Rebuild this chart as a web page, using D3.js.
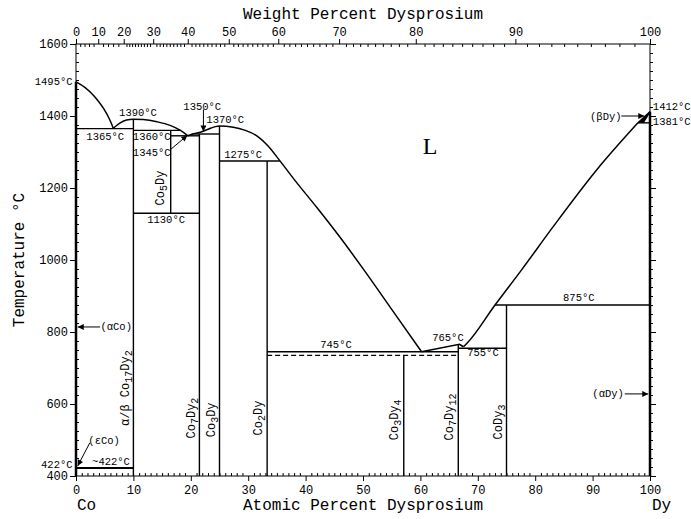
<!DOCTYPE html>
<html>
<head>
<meta charset="utf-8">
<script src="https://cdn.jsdelivr.net/npm/d3@7"></script>
<style>
  body { margin: 0; background: #fff; }
  text { font-family: "Liberation Mono", monospace; fill: #000; }
</style>
</head>
<body>
<div id="chart"></div>
<script>
// axis ticks
const atTicks = d3.range(0, 101, 10);
const wtTicks = d3.range(0, 101, 10);
const tempTicks = d3.range(400, 1601, 200);

// liquidus / solidus curves, [at% Dy, °C]
const liqCo = [[0,1495],[1.6,1479],[3.3,1453],[4.8,1421],[5.9,1389],[6.5,1366]];
const liqCo17Dy2 = [[6.5,1366],[7.7,1381],[8.8,1389],[10,1391],[11.7,1390],[14.1,1384],[16.4,1374],[18.2,1360],[19.5,1345]];
const liqCo3Dy = [[19.5,1345],[20.3,1350],[21.5,1354],[22.8,1362],[25,1372],[27.4,1369],[29.5,1360],[31.5,1345],[33.5,1316],[35.5,1276],[38,1224],[42,1145],[46,1063],[50,976],[55,863],[60.2,745]];
const liqCo7Dy12 = [[60.2,745],[66.8,766],[67.5,759]];
const liqDy = [[67.5,759],[68.2,770],[73,875],[77.6,972],[83.2,1094],[90.7,1250],[97.9,1381]];
const liqBetaDy = [[97.9,1381],[100,1412]];
const solBetaDy = [[98.8,1381],[100,1412]];

// invariant lines: temperature, from, to
const isoTemps = [1365, 1360, 1345, 1350, 1275, 1130, 745, 755, 875, 422, 1381];
const isoFrom  = [0,    10,   16.5, 20.3, 25,   10,   33.3, 66.6, 73,  0,   97.9];
const isoTo    = [10,   18.2, 21.5, 25,   35.5, 21.5, 66.6, 75,   100, 10,  100];
const dashedIso = [[33.3, 735], [66.6, 735]];

// compounds: composition, top and bottom temperature
const compNames = ["α/β Co17Dy2", "Co5Dy", "Co7Dy2", "Co3Dy", "Co2Dy", "Co3Dy4", "Co7Dy12", "CoDy3"];
const compAt    = [10,   16.5, 21.5, 25,   33.3, 57.1, 66.6, 75];
const compTop   = [1391, 1360, 1350, 1372, 1275, 735,  765,  875];
const compBot   = [400,  1130, 400,  400,  400,  400,  400,  400];
const compLabelPos = [[8.7,644],[14.8,1200],[20.2,561],[23.7,556],[31.9,561],[55.6,556],[65.2,564],[73.7,550]];

// temperature annotations
const tempLabels = [
  ["1495°C", -0.6, 1495, "end"], ["1390°C", 10.8, 1408, "middle"], ["1365°C", 5.1, 1342, "middle"],
  ["1360°C", 13.2, 1342, "middle"], ["1345°C", 13.2, 1297, "middle"], ["1350°C", 22, 1425, "middle"],
  ["1370°C", 26, 1389, "middle"], ["1275°C", 29.1, 1292, "middle"], ["1130°C", 15.7, 1111, "middle"],
  ["745°C", 45.3, 764, "middle"], ["765°C", 64.8, 783, "middle"], ["755°C", 70.9, 742, "middle"],
  ["875°C", 87.6, 894, "middle"], ["~422°C", 6.1, 439, "middle"], ["422°C", -0.6, 430, "end"],
  ["1412°C", 100.5, 1425, "start"], ["1381°C", 100.5, 1383, "start"],
  ["(εCo)", 4.9, 497, "middle"], ["(αCo)", 7, 814, "middle"], ["(βDy)", 92.3, 1397, "middle"], ["(αDy)", 92.7, 628, "middle"]
];
const arrows = [
  [[16.4,1306],[19.4,1346]], [[22.2,1418],[22.2,1357]], [[2.4,492],[0.3,428]],
  [[4.2,814],[0.3,814]], [[95.6,628],[99.7,628]], [[95,1400],[99,1400]]
];

const W = 691, H = 519;
const svg = d3.select("#chart").append("svg").attr("width", W).attr("height", H);

const x = d3.scaleLinear().domain([0, 100]).range([76, 650]);
const y = d3.scaleLinear().domain([400, 1600]).range([476, 44]);

function wtToAt(w) {
  if (w >= 100) return 100;
  const nd = w / 162.5, nc = (100 - w) / 58.933;
  return 100 * nd / (nd + nc);
}

svg.append("defs").append("marker").attr("id", "arr")
  .attr("viewBox", "0 0 10 10").attr("refX", 10).attr("refY", 5)
  .attr("markerWidth", 8).attr("markerHeight", 6).attr("markerUnits", "userSpaceOnUse")
  .attr("orient", "auto")
  .append("path").attr("d", "M0,0L10,5L0,10z").attr("fill", "#000");

// axes
const styleAxis = g => { g.select(".domain").remove(); g.selectAll("line").attr("stroke", "#000"); g.selectAll("text").style("font-size", "12px").style("font-family", "Liberation Mono"); };
const minorAt = d3.range(0, 101, 1).filter(d => d % 10);
const minorT = d3.range(400, 1601, 25).filter(d => d % 200);
const minorWt = d3.range(0, 100, 1).filter(d => d % 10 && (d >= 20 || d % 2 === 0)).map(wtToAt);

svg.append("g").attr("transform", "translate(0,476)")
  .call(d3.axisBottom(x).tickValues(atTicks).tickSize(5).tickPadding(4)).call(styleAxis);
svg.append("g").attr("transform", "translate(0,476)")
  .call(d3.axisBottom(x).tickValues(minorAt).tickSize(-3).tickFormat("")).call(styleAxis);
svg.append("g").attr("transform", "translate(0,44)")
  .call(d3.axisTop(x).tickValues(wtTicks.map(wtToAt)).tickSize(5).tickPadding(3).tickFormat((d, i) => wtTicks[i])).call(styleAxis);
svg.append("g").attr("transform", "translate(0,44)")
  .call(d3.axisTop(x).tickValues(minorWt).tickSize(-3).tickFormat("")).call(styleAxis);
svg.append("g").attr("transform", "translate(76,0)")
  .call(d3.axisLeft(y).tickValues(tempTicks).tickSize(6).tickPadding(2).tickFormat(d3.format("d"))).call(styleAxis);
svg.append("g").attr("transform", "translate(76,0)")
  .call(d3.axisLeft(y).tickValues(minorT).tickSize(-3).tickFormat("")).call(styleAxis);
svg.append("g").attr("transform", "translate(650,0)")
  .call(d3.axisRight(y).tickValues(tempTicks).tickSize(6).tickFormat("")).call(styleAxis);
svg.append("g").attr("transform", "translate(650,0)")
  .call(d3.axisRight(y).tickValues(minorT).tickSize(3).tickFormat("")).call(styleAxis);

svg.append("rect").attr("x", x(0)).attr("y", y(1600)).attr("width", x(100) - x(0)).attr("height", y(400) - y(1600))
  .attr("fill", "none").attr("stroke", "#000").attr("stroke-width", 1);

// pure element lines
svg.append("line").attr("x1", x(0)).attr("x2", x(0)).attr("y1", y(400)).attr("y2", y(1495)).attr("stroke", "#000").attr("stroke-width", 2.5);
svg.append("line").attr("x1", x(100)).attr("x2", x(100)).attr("y1", y(400)).attr("y2", y(1412)).attr("stroke", "#000").attr("stroke-width", 2.5);

// curves
const line = d3.line().x(d => x(d[0])).y(d => y(d[1])).curve(d3.curveMonotoneX);
const lineStraight = d3.line().x(d => x(d[0])).y(d => y(d[1]));
[liqCo, liqCo17Dy2, liqCo3Dy, liqDy].forEach(c => svg.append("path").datum(c).attr("d", line).attr("fill", "none").attr("stroke", "#000").attr("stroke-width", 1.5));
[liqCo7Dy12, liqBetaDy, solBetaDy].forEach(c => svg.append("path").datum(c).attr("d", lineStraight).attr("fill", "none").attr("stroke", "#000").attr("stroke-width", 1.5));
svg.append("path").datum([liqBetaDy[0], liqBetaDy[1], solBetaDy[0]]).attr("d", lineStraight).attr("fill", "#000");

// invariant lines
isoTemps.forEach((t, i) => svg.append("line")
  .attr("x1", x(isoFrom[i])).attr("x2", x(isoTo[i])).attr("y1", y(t)).attr("y2", y(t))
  .attr("stroke", "#000").attr("stroke-width", t === 422 ? 2 : 1.4));
svg.append("path").datum(dashedIso).attr("d", lineStraight).attr("stroke", "#000").attr("stroke-width", 1.4).attr("stroke-dasharray", "5,3");

// compounds
compAt.forEach((a, i) => svg.append("line")
  .attr("x1", x(a)).attr("x2", x(a)).attr("y1", y(compTop[i])).attr("y2", y(compBot[i]))
  .attr("stroke", "#000").attr("stroke-width", 1.4));

compNames.forEach((name, i) => {
  const t = svg.append("text")
    .attr("transform", `translate(${x(compLabelPos[i][0])},${y(compLabelPos[i][1])}) rotate(-90)`)
    .attr("text-anchor", "middle").attr("dominant-baseline", "central").style("font-size", "12px");
  let prevSub = false;
  name.split(/(\d+)/).filter(s => s).forEach(part => {
    const isSub = /^\d+$/.test(part);
    const ts = t.append("tspan").text(part);
    if (isSub) ts.attr("dy", 3).style("font-size", "10px");
    else if (prevSub) ts.attr("dy", -3);
    prevSub = isSub;
  });
});

// labels
tempLabels.forEach(([txt, a, T, anchor]) => svg.append("text")
  .attr("x", x(a)).attr("y", y(T)).attr("text-anchor", anchor).attr("dominant-baseline", "central")
  .style("font-size", "10.5px").text(txt));

arrows.forEach(([p0, p1]) => svg.append("line")
  .attr("x1", x(p0[0])).attr("y1", y(p0[1])).attr("x2", x(p1[0])).attr("y2", y(p1[1]))
  .attr("stroke", "#000").attr("stroke-width", 1).attr("marker-end", "url(#arr)"));

svg.append("text").attr("x", x(61.7)).attr("y", y(1317)).attr("text-anchor", "middle").attr("dominant-baseline", "central")
  .style("font-family", "Liberation Serif").style("font-size", "24px").text("L");

// titles
svg.append("text").attr("x", 363).attr("y", 15).attr("text-anchor", "middle").attr("dominant-baseline", "central")
  .style("font-size", "16px").text("Weight Percent Dysprosium");
svg.append("text").attr("x", 363).attr("y", 506).attr("text-anchor", "middle").attr("dominant-baseline", "central")
  .style("font-size", "16px").text("Atomic Percent Dysprosium");
svg.append("text").attr("transform", "translate(20,260) rotate(-90)").attr("text-anchor", "middle").attr("dominant-baseline", "central")
  .style("font-size", "16px").text("Temperature °C");
svg.append("text").attr("x", 77).attr("y", 506).attr("dominant-baseline", "central").style("font-size", "16px").text("Co");
svg.append("text").attr("x", 652).attr("y", 506).attr("dominant-baseline", "central").style("font-size", "16px").text("Dy");
</script>
</body>
</html>
